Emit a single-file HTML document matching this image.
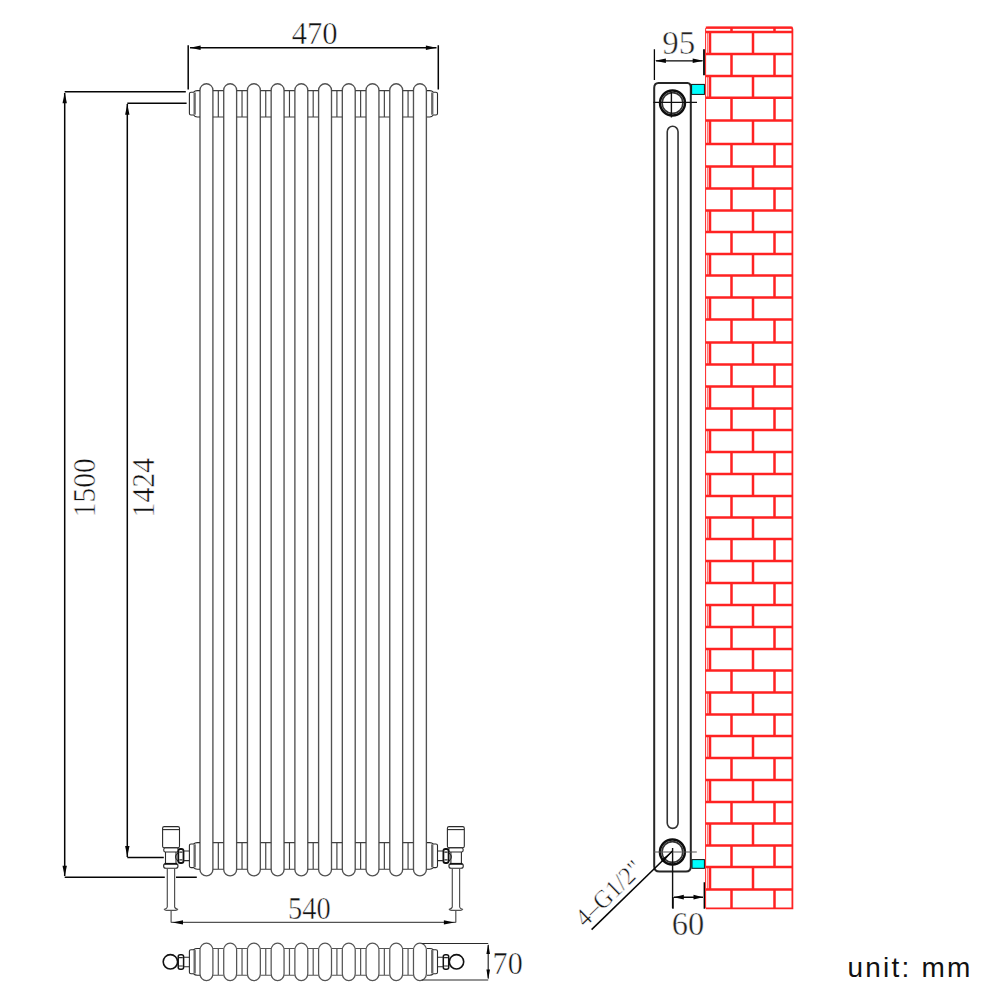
<!DOCTYPE html>
<html><head><meta charset="utf-8"><style>
html,body{margin:0;padding:0;background:#fff;width:1001px;height:1001px;overflow:hidden}
svg{display:block}
</style></head><body>
<svg width="1001" height="1001" viewBox="0 0 1001 1001">
<path d="M200.00 869.4V90.2A6.45 6.45 0 0 1 212.90 90.2V869.4A6.45 6.45 0 0 1 200.00 869.4 M223.72 869.4V90.2A6.45 6.45 0 0 1 236.62 90.2V869.4A6.45 6.45 0 0 1 223.72 869.4 M247.44 869.4V90.2A6.45 6.45 0 0 1 260.34 90.2V869.4A6.45 6.45 0 0 1 247.44 869.4 M271.16 869.4V90.2A6.45 6.45 0 0 1 284.06 90.2V869.4A6.45 6.45 0 0 1 271.16 869.4 M294.88 869.4V90.2A6.45 6.45 0 0 1 307.78 90.2V869.4A6.45 6.45 0 0 1 294.88 869.4 M318.60 869.4V90.2A6.45 6.45 0 0 1 331.50 90.2V869.4A6.45 6.45 0 0 1 318.60 869.4 M342.32 869.4V90.2A6.45 6.45 0 0 1 355.22 90.2V869.4A6.45 6.45 0 0 1 342.32 869.4 M366.04 869.4V90.2A6.45 6.45 0 0 1 378.94 90.2V869.4A6.45 6.45 0 0 1 366.04 869.4 M389.76 869.4V90.2A6.45 6.45 0 0 1 402.66 90.2V869.4A6.45 6.45 0 0 1 389.76 869.4 M413.48 869.4V90.2A6.45 6.45 0 0 1 426.38 90.2V869.4A6.45 6.45 0 0 1 413.48 869.4" fill="none" stroke="#525252" stroke-width="1.35"/>
<path d="M212.90 90.6H223.72M212.90 117H223.72M218.31 90.6V117 M236.62 90.6H247.44M236.62 117H247.44M242.03 90.6V117 M260.34 90.6H271.16M260.34 117H271.16M265.75 90.6V117 M284.06 90.6H294.88M284.06 117H294.88M289.47 90.6V117 M307.78 90.6H318.60M307.78 117H318.60M313.19 90.6V117 M331.50 90.6H342.32M331.50 117H342.32M336.91 90.6V117 M355.22 90.6H366.04M355.22 117H366.04M360.63 90.6V117 M378.94 90.6H389.76M378.94 117H389.76M384.35 90.6V117 M402.66 90.6H413.48M402.66 117H413.48M408.07 90.6V117 M212.90 842.6H223.72M212.90 869.2H223.72M218.31 842.6V869.2 M236.62 842.6H247.44M236.62 869.2H247.44M242.03 842.6V869.2 M260.34 842.6H271.16M260.34 869.2H271.16M265.75 842.6V869.2 M284.06 842.6H294.88M284.06 869.2H294.88M289.47 842.6V869.2 M307.78 842.6H318.60M307.78 869.2H318.60M313.19 842.6V869.2 M331.50 842.6H342.32M331.50 869.2H342.32M336.91 842.6V869.2 M355.22 842.6H366.04M355.22 869.2H366.04M360.63 842.6V869.2 M378.94 842.6H389.76M378.94 869.2H389.76M384.35 842.6V869.2 M402.66 842.6H413.48M402.66 869.2H413.48M408.07 842.6V869.2" fill="none" stroke="#404040" stroke-width="1.15"/>
<path d="M200 90.6H197.2Q195 90.6 193.6 92.2H191Q189.4 92.2 189.4 93.8V113.4Q189.4 115 191 115H193.6Q195 117 197.2 117H200" fill="none" stroke="#2a2a2a" stroke-width="1.1"/><rect x="193.5" y="92.5" width="2.3" height="22.199999999999996" fill="#6a6a6a"/>
<g transform="translate(626.9 0) scale(-1 1)"><path d="M200 90.6H197.2Q195 90.6 193.6 92.2H191Q189.4 92.2 189.4 93.8V113.4Q189.4 115 191 115H193.6Q195 117 197.2 117H200" fill="none" stroke="#2a2a2a" stroke-width="1.1"/><rect x="193.5" y="92.5" width="2.3" height="22.199999999999996" fill="#6a6a6a"/></g>
<path d="M200 842.6H197.2Q195 842.6 193.6 844H191Q189.4 844 189.4 845.6V866.0Q189.4 867.6 191 867.6H193.6Q195 869.2 197.2 869.2H200" fill="none" stroke="#2a2a2a" stroke-width="1.1"/><rect x="193.5" y="844.3" width="2.3" height="23.00000000000002" fill="#6a6a6a"/>
<g transform="translate(626.9 0) scale(-1 1)"><path d="M200 842.6H197.2Q195 842.6 193.6 844H191Q189.4 844 189.4 845.6V866.0Q189.4 867.6 191 867.6H193.6Q195 869.2 197.2 869.2H200" fill="none" stroke="#2a2a2a" stroke-width="1.1"/><rect x="193.5" y="844.3" width="2.3" height="23.00000000000002" fill="#6a6a6a"/></g>

<g fill="none" stroke="#2a2a2a" stroke-width="1.1">
<rect x="162.6" y="826.6" width="16.9" height="21.2" rx="1.6"/>
<path d="M162.8 829.6H179.3"/>
<rect x="163.8" y="847.8" width="14.4" height="4.2" rx="1.5"/>
<path d="M165.5 852V863M176 852V863"/>
<path d="M178.2 852.6Q172.8 857 178.2 861.2"/>
<rect x="178.3" y="849" width="5.2" height="14" rx="2" stroke-width="1.8" stroke="#111"/>
<path d="M179.3 852.2H182.5M179.3 859.8H182.5" stroke-width="1.2"/>
<path d="M183.5 851H189.4M183.5 860.6H189.4"/>
<rect x="163.6" y="863.6" width="14.4" height="4.7" rx="2.3"/>
<path d="M164.6 863.8H177" stroke-width="1.8" stroke="#111"/>
<path d="M167.3 868.3V907Q167 908.6 164.4 909.3Q164.8 910.3 166.5 910.3H175.5Q177.3 910.3 177.6 909.3Q175 908.6 174.6 907V868.3" stroke="#525252" stroke-width="1.2"/>
</g>
<path d="M171.1 910.3V922.4" stroke="#525252" stroke-width="1.2" fill="none"/>

<g transform="translate(626.9 0) scale(-1 1)">
<g fill="none" stroke="#2a2a2a" stroke-width="1.1">
<rect x="162.6" y="826.6" width="16.9" height="21.2" rx="1.6"/>
<path d="M162.8 829.6H179.3"/>
<rect x="163.8" y="847.8" width="14.4" height="4.2" rx="1.5"/>
<path d="M165.5 852V863M176 852V863"/>
<path d="M178.2 852.6Q172.8 857 178.2 861.2"/>
<rect x="178.3" y="849" width="5.2" height="14" rx="2" stroke-width="1.8" stroke="#111"/>
<path d="M179.3 852.2H182.5M179.3 859.8H182.5" stroke-width="1.2"/>
<path d="M183.5 851H189.4M183.5 860.6H189.4"/>
<rect x="163.6" y="863.6" width="14.4" height="4.7" rx="2.3"/>
<path d="M164.6 863.8H177" stroke-width="1.8" stroke="#111"/>
<path d="M167.3 868.3V907Q167 908.6 164.4 909.3Q164.8 910.3 166.5 910.3H175.5Q177.3 910.3 177.6 909.3Q175 908.6 174.6 907V868.3" stroke="#525252" stroke-width="1.2"/>
</g>
<path d="M171.1 910.3V922.4" stroke="#525252" stroke-width="1.2" fill="none"/>
</g>
<path d="M188.2 45.2V89.4M438.3 45.2V89.4M190 47.7H436.5" stroke="#050505" stroke-width="1.5" fill="none"/><path d="M190.10 47.70L200.60 45.50L200.60 49.90Z" fill="#050505"/><path d="M436.40 47.70L425.90 49.90L425.90 45.50Z" fill="#050505"/><path d="M64.7 91.8H185.8M64.7 877.2H164.8M176 877.2H196.8M64.7 93V876" stroke="#050505" stroke-width="1.5" fill="none"/><path d="M64.70 92.80L66.90 103.30L62.50 103.30Z" fill="#050505"/><path d="M64.70 876.20L62.50 865.70L66.90 865.70Z" fill="#050505"/><path d="M127.3 103.2H186.6M127.3 857.5H163.8M127.3 104V857" stroke="#050505" stroke-width="1.5" fill="none"/><path d="M127.30 104.20L129.50 114.70L125.10 114.70Z" fill="#050505"/><path d="M127.30 856.60L125.10 846.10L129.50 846.10Z" fill="#050505"/><path d="M171.1 922.4H455.8" stroke="#525252" stroke-width="1.3" fill="none"/><path d="M172.50 922.40L183.00 920.20L183.00 924.60Z" fill="#050505"/><path d="M454.40 922.40L443.90 924.60L443.90 920.20Z" fill="#050505"/>
<path d="M200.00 973.8V950A6.45 6.9 0 0 1 212.90 950V973.8A6.45 6.9 0 0 1 200.00 973.8 M223.72 973.8V950A6.45 6.9 0 0 1 236.62 950V973.8A6.45 6.9 0 0 1 223.72 973.8 M247.44 973.8V950A6.45 6.9 0 0 1 260.34 950V973.8A6.45 6.9 0 0 1 247.44 973.8 M271.16 973.8V950A6.45 6.9 0 0 1 284.06 950V973.8A6.45 6.9 0 0 1 271.16 973.8 M294.88 973.8V950A6.45 6.9 0 0 1 307.78 950V973.8A6.45 6.9 0 0 1 294.88 973.8 M318.60 973.8V950A6.45 6.9 0 0 1 331.50 950V973.8A6.45 6.9 0 0 1 318.60 973.8 M342.32 973.8V950A6.45 6.9 0 0 1 355.22 950V973.8A6.45 6.9 0 0 1 342.32 973.8 M366.04 973.8V950A6.45 6.9 0 0 1 378.94 950V973.8A6.45 6.9 0 0 1 366.04 973.8 M389.76 973.8V950A6.45 6.9 0 0 1 402.66 950V973.8A6.45 6.9 0 0 1 389.76 973.8 M413.48 973.8V950A6.45 6.9 0 0 1 426.38 950V973.8A6.45 6.9 0 0 1 413.48 973.8" fill="none" stroke="#555" stroke-width="1.25"/><path d="M212.90 948.5H223.72M212.90 975.25H223.72M218.31 948.5V975.25 M236.62 948.5H247.44M236.62 975.25H247.44M242.03 948.5V975.25 M260.34 948.5H271.16M260.34 975.25H271.16M265.75 948.5V975.25 M284.06 948.5H294.88M284.06 975.25H294.88M289.47 948.5V975.25 M307.78 948.5H318.60M307.78 975.25H318.60M313.19 948.5V975.25 M331.50 948.5H342.32M331.50 975.25H342.32M336.91 948.5V975.25 M355.22 948.5H366.04M355.22 975.25H366.04M360.63 948.5V975.25 M378.94 948.5H389.76M378.94 975.25H389.76M384.35 948.5V975.25 M402.66 948.5H413.48M402.66 975.25H413.48M408.07 948.5V975.25" fill="none" stroke="#555" stroke-width="1.2"/><path d="M200 948.5H197.2Q195 948.5 193.6 949.75H191Q189.4 949.75 189.4 951.35V972.15Q189.4 973.75 191 973.75H193.6Q195 975.25 197.2 975.25H200" fill="none" stroke="#2a2a2a" stroke-width="1.1"/><rect x="193.5" y="950.05" width="2.3" height="23.4" fill="#6a6a6a"/><g transform="translate(626.9 0) scale(-1 1)"><path d="M200 948.5H197.2Q195 948.5 193.6 949.75H191Q189.4 949.75 189.4 951.35V972.15Q189.4 973.75 191 973.75H193.6Q195 975.25 197.2 975.25H200" fill="none" stroke="#2a2a2a" stroke-width="1.1"/><rect x="193.5" y="950.05" width="2.3" height="23.4" fill="#6a6a6a"/></g><g fill="none" stroke="#2a2a2a" stroke-width="1.1">
<circle cx="170.4" cy="961.8" r="7.2" stroke-width="1.6" stroke="#111"/>
<rect x="178.2" y="954.8" width="5.4" height="14.4" rx="2" stroke-width="1.5" stroke="#111"/>
<path d="M179 957.6H182.8M179 966H182.8"/>
<path d="M183.6 957.25H189.3M183.6 966.75H189.3"/>
</g><g transform="translate(626.9 0) scale(-1 1)"><g fill="none" stroke="#2a2a2a" stroke-width="1.1">
<circle cx="170.4" cy="961.8" r="7.2" stroke-width="1.6" stroke="#111"/>
<rect x="178.2" y="954.8" width="5.4" height="14.4" rx="2" stroke-width="1.5" stroke="#111"/>
<path d="M179 957.6H182.8M179 966H182.8"/>
<path d="M183.6 957.25H189.3M183.6 966.75H189.3"/>
</g></g><path d="M421.7 943.5H488.2M421.7 980H488.2M488.2 945V978.5" stroke="#2a2a2a" stroke-width="1.2" fill="none"/><path d="M488.20 944.00L490.00 954.00L486.40 954.00Z" fill="#050505"/><path d="M488.20 979.50L486.40 969.50L490.00 969.50Z" fill="#050505"/>
<path d="M658.5 83H687.5Q690.8 83 690.8 88V866.5Q690.8 871.5 686 871.5H659.5Q654.2 871.5 654.2 866.5V88Q654.2 83 658.5 83Z" fill="none" stroke="#262626" stroke-width="2"/><path d="M672.8 131.9V822.8" fill="none"/><rect x="667.25" y="126.3" width="10.8" height="702.1" rx="5.4" fill="none" stroke="#333" stroke-width="1.6"/><circle cx="672.5" cy="103" r="12.5" fill="none" stroke="#0d0d0d" stroke-width="2.4"/><circle cx="672.5" cy="103" r="10.4" fill="none" stroke="#333" stroke-width="1.6"/><circle cx="672.4" cy="852" r="12.5" fill="none" stroke="#0d0d0d" stroke-width="2.4"/><circle cx="672.4" cy="852" r="10.4" fill="none" stroke="#333" stroke-width="1.6"/><path d="M653.4 102.4H697M671.4 91.9V117.6M672.6 848V908.2" fill="none" stroke="#111" stroke-width="1.4"/><path d="M653.6 852H696.8" fill="none" stroke="#555" stroke-width="1.1"/><rect x="691.6" y="84.4" width="12.8" height="10" fill="#00ffff" stroke="#111" stroke-width="1"/><rect x="692" y="859.6" width="12.4" height="8.7" fill="#00ffff" stroke="#111" stroke-width="1"/><path d="M654.4 49.2V80M656 60.8H702.5" stroke="#050505" stroke-width="1.3" fill="none"/><path d="M704 49.2V75.2" stroke="#050505" stroke-width="1.8" fill="none"/><path d="M654.90 60.80L665.90 58.50L665.90 63.10Z" fill="#050505"/><path d="M703.20 60.80L692.70 63.10L692.70 58.50Z" fill="#050505"/><path d="M673 908.75V897M704.3 882.2V908.75M674 897.2H703" stroke="#050505" stroke-width="1.4" fill="none"/><path d="M673.80 897.20L683.80 894.80L683.80 899.60Z" fill="#050505"/><path d="M703.00 897.20L693.50 899.60L693.50 894.80Z" fill="#050505"/><path d="M672.5 851L591.6 929.6" stroke="#050505" stroke-width="1.5" fill="none"/><path d="M671.50 852.00L663.29 862.20L661.06 859.91Z" fill="#050505"/>
<path d="M705.8 32H792.4 M705.8 54H792.4 M705.8 76H792.4 M705.8 97.8H792.4 M705.8 120.5H792.4 M705.8 144H792.4 M705.8 166.5H792.4 M705.8 188.5H792.4 M705.8 210.5H792.4 M705.8 232H792.4 M705.8 254H792.4 M705.8 275.5H792.4 M705.8 297.5H792.4 M705.8 319.5H792.4 M705.8 342.5H792.4 M705.8 364.5H792.4 M705.8 386.5H792.4 M705.8 408.5H792.4 M705.8 430H792.4 M705.8 452H792.4 M705.8 474H792.4 M705.8 496H792.4 M705.8 517.5H792.4 M705.8 539H792.4 M705.8 561H792.4 M705.8 583H792.4 M705.8 605H792.4 M705.8 627H792.4 M705.8 649H792.4 M705.8 670.5H792.4 M705.8 692.5H792.4 M705.8 714.5H792.4 M705.8 736H792.4 M705.8 758H792.4 M705.8 780H792.4 M705.8 802H792.4 M705.8 823.5H792.4 M705.8 845.5H792.4 M705.8 867H792.4 M705.8 889.5H792.4 M731.5 27.6V32M774.5 27.6V32 M710 32V54M753 32V54 M731.5 54V76M774.5 54V76 M710 76V97.8M753 76V97.8 M731.5 97.8V120.5M774.5 97.8V120.5 M710 120.5V144M753 120.5V144 M731.5 144V166.5M774.5 144V166.5 M710 166.5V188.5M753 166.5V188.5 M731.5 188.5V210.5M774.5 188.5V210.5 M710 210.5V232M753 210.5V232 M731.5 232V254M774.5 232V254 M710 254V275.5M753 254V275.5 M731.5 275.5V297.5M774.5 275.5V297.5 M710 297.5V319.5M753 297.5V319.5 M731.5 319.5V342.5M774.5 319.5V342.5 M710 342.5V364.5M753 342.5V364.5 M731.5 364.5V386.5M774.5 364.5V386.5 M710 386.5V408.5M753 386.5V408.5 M731.5 408.5V430M774.5 408.5V430 M710 430V452M753 430V452 M731.5 452V474M774.5 452V474 M710 474V496M753 474V496 M731.5 496V517.5M774.5 496V517.5 M710 517.5V539M753 517.5V539 M731.5 539V561M774.5 539V561 M710 561V583M753 561V583 M731.5 583V605M774.5 583V605 M710 605V627M753 605V627 M731.5 627V649M774.5 627V649 M710 649V670.5M753 649V670.5 M731.5 670.5V692.5M774.5 670.5V692.5 M710 692.5V714.5M753 692.5V714.5 M731.5 714.5V736M774.5 714.5V736 M710 736V758M753 736V758 M731.5 758V780M774.5 758V780 M710 780V802M753 780V802 M731.5 802V823.5M774.5 802V823.5 M710 823.5V845.5M753 823.5V845.5 M731.5 845.5V867M774.5 845.5V867 M710 867V889.5M753 867V889.5 M731.5 889.5V908.4M774.5 889.5V908.4" fill="none" stroke="#ff2222" stroke-width="2.5"/>
<path d="M705.5999999999999 908.4V29.1Q705.5999999999999 27.6 707.3 27.6" fill="none" stroke="#ff2222" stroke-width="1.0"/>
<path d="M707.3 27.6H790.9Q792.4 27.6 792.4 29.1V908.4H705.8" fill="none" stroke="#ff2222" stroke-width="1.8"/>
<path d="M705.8 27.6H792.4" stroke="#ff2222" stroke-width="2.2"/>
<path d="M707.7 32V54 M707.7 76V97.8 M707.7 120.5V144 M707.7 166.5V188.5 M707.7 210.5V232 M707.7 254V275.5 M707.7 297.5V319.5 M707.7 342.5V364.5 M707.7 386.5V408.5 M707.7 430V452 M707.7 474V496 M707.7 517.5V539 M707.7 561V583 M707.7 605V627 M707.7 649V670.5 M707.7 692.5V714.5 M707.7 736V758 M707.7 780V802 M707.7 823.5V845.5 M707.7 867V889.5" fill="none" stroke="#ff2222" stroke-width="0.85" opacity="0.9"/>
<text transform="translate(314.6 44.3) scale(0.94 1)" font-family="Liberation Serif, serif" stroke="#fff" stroke-width="0.5" font-size="32.6" text-anchor="middle" fill="#111">470</text><text transform="translate(309.35 919.2) scale(0.9 1)" font-family="Liberation Serif, serif" stroke="#fff" stroke-width="0.5" font-size="31.6" text-anchor="middle" fill="#111">540</text><text transform="translate(507.7 973.8) scale(0.97 1)" font-family="Liberation Serif, serif" stroke="#fff" stroke-width="0.5" font-size="31.1" text-anchor="middle" fill="#111">70</text><text transform="translate(678.8 53.6) scale(1 1)" font-family="Liberation Serif, serif" stroke="#fff" stroke-width="0.5" font-size="33" text-anchor="middle" fill="#222">95</text><text transform="translate(688 934.5) scale(0.98 1)" font-family="Liberation Serif, serif" stroke="#fff" stroke-width="0.5" font-size="33.2" text-anchor="middle" fill="#222">60</text><text transform="translate(95.3 487.75) rotate(-90) scale(0.96 1)" font-family="Liberation Serif, serif" stroke="#fff" stroke-width="0.5" font-size="30.7" text-anchor="middle" fill="#111">1500</text><text transform="translate(154.1 487.7) rotate(-90) scale(0.965 1)" font-family="Liberation Serif, serif" stroke="#fff" stroke-width="0.5" font-size="30.8" text-anchor="middle" fill="#111">1424</text><text transform="translate(585.0 928.1) rotate(-44.15) scale(0.95 1)" font-family="Liberation Serif, serif" stroke="#fff" stroke-width="0.5" font-size="25.5" fill="#111">4<tspan dx="0.5">–</tspan><tspan dx="-0.5">G1/2"</tspan></text><text x="847.5" y="976.7" font-family="Liberation Sans, sans-serif" font-size="28" letter-spacing="2.2" fill="#111">unit: mm</text>
</svg></body></html>
